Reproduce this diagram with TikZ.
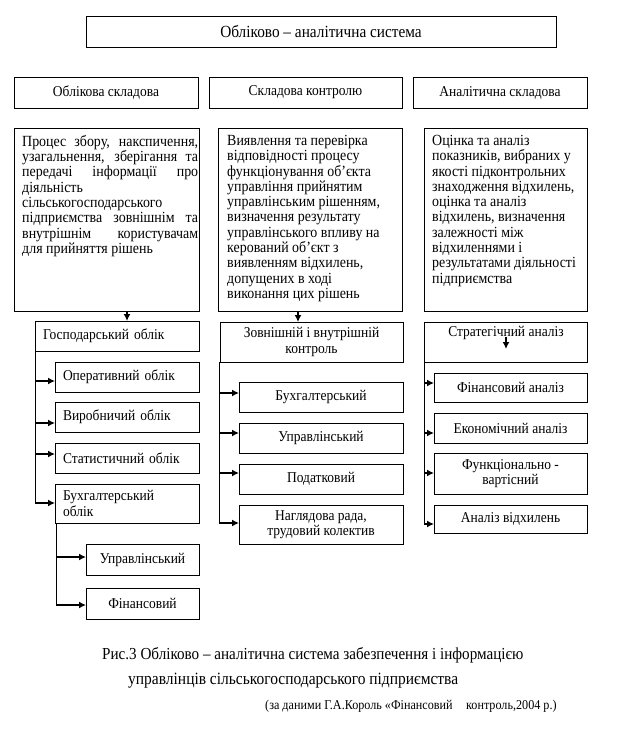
\documentclass[tikz,border=0pt]{standalone}
\usepackage{fontspec}
\setmainfont{Liberation Serif}[FakeStretch=0.9]
\usetikzlibrary{arrows.meta,calc}
\begin{document}
\begin{tikzpicture}[x=1pt,y=-1pt,
  bx/.style={draw, line width=0.9pt, anchor=north west, inner sep=0pt, outer sep=0pt, rectangle},
  lbx/.style={bx, align=left, inner xsep=8pt},
  cbx/.style={bx, align=center},
  fs/.style={font=\fontsize{15}{15.5}\selectfont},
  bigtxt/.style={anchor=north west, inner sep=0pt, font=\fontsize{15.5}{15.3}\selectfont},
  arr/.style={line width=1.9pt, -{Latex[length=7pt,width=7pt]}},
  trunk/.style={line width=1pt},
]
\useasboundingbox (0,0) rectangle (619,730);
\fill[white] (0,0) rectangle (619,730);

% title and top row
\node[cbx, minimum width=470pt, minimum height=31pt, font=\fontsize{17}{18}\selectfont] (title) at (86,16) {Обліково – аналітична система};
\node[cbx, fs, minimum width=184pt, minimum height=31pt] (oblsk) at (14,77) {Облікова складова};
\node[cbx, fs, minimum width=193pt, minimum height=31pt] (kontsk) at (209,77) {Складова контролю};
\node[cbx, fs, minimum width=174pt, minimum height=31pt] (analsk) at (413,77) {Аналітична складова};

% big boxes
\node[bx, minimum width=185pt, minimum height=183pt] (lbig) at (14,128) {};
\node[bx, minimum width=184pt, minimum height=183pt] (mbig) at (218,128) {};
\node[bx, minimum width=163pt, minimum height=183pt] (rbig) at (424,128) {};

\node[bigtxt, align=justify, text width=176pt] (lbigT) at (22,135) {\hyphenpenalty=10000 Процес збору, накспичення,\linebreak узагальнення, зберігання та\linebreak передачі інформації про\linebreak діяльність\linebreak сільськогосподарського\linebreak підприємства зовнішнім та\linebreak внутрішнім користувачам\linebreak для прийняття рішень};
\node[bigtxt, align=left] (mbigT) at (227,135) {Виявлення та перевірка\\відповідності процесу\\функціонування об’єкта\\управління прийнятим\\управлінським рішенням,\\визначення результату\\управлінського впливу на\\керований об’єкт з\\виявленням відхилень,\\допущених в ході\\виконання цих рішень};
\node[bigtxt, align=left] (rbigT) at (432,135) {Оцінка та аналіз\\показників, вибраних у\\якості підконтрольних\\знаходження відхилень,\\оцінка та аналіз\\відхилень, визначення\\залежності між\\відхиленнями і\\результатами діяльності\\підприємства};

% left column
\node[lbx, fs, text width=148pt, minimum height=30pt] (gosp) at (35,321) {Господарський облік};
\node[lbx, fs, text width=128pt, minimum height=30pt] (oper) at (55,362) {Оперативний облік};
\node[lbx, fs, text width=128pt, minimum height=30pt] (virob) at (55,402) {Виробничий облік};
\node[lbx, fs, text width=128pt, minimum height=30pt] (stat) at (55,443) {Статистичний облік};
\node[lbx, fs, text width=128pt, minimum height=39pt] (buh) at (55,484) {Бухгалтерський\\облік};
\node[cbx, fs, minimum width=113pt, minimum height=31pt] (upr) at (86,544) {Управлінський};
\node[cbx, fs, minimum width=113pt, minimum height=31pt] (fin) at (86,588) {Фінансовий};

% middle column
\node[cbx, fs, minimum width=183pt, minimum height=40pt] (zovn) at (220,322) {Зовнішній і внутрішній\\контроль};
\node[cbx, fs, minimum width=164pt, minimum height=30pt] (mbuh) at (239,382) {Бухгалтерський};
\node[cbx, fs, minimum width=164pt, minimum height=30pt] (mupr) at (239,423) {Управлінський};
\node[cbx, fs, minimum width=164pt, minimum height=30pt] (mpod) at (239,464) {Податковий};
\node[cbx, fs, minimum width=164pt, minimum height=39pt] (mnagl) at (239,505) {Наглядова рада,\\трудовий колектив};

% right column
\node[bx, minimum width=163pt, minimum height=40pt] (strat) at (424,322) {};
\node[fs, inner sep=0pt] (stratT) at (506,333) {Стратегічний аналіз};
\node[cbx, fs, minimum width=153pt, minimum height=29pt] (rfin) at (434,373) {Фінансовий аналіз};
\node[cbx, fs, minimum width=153pt, minimum height=30pt] (rek) at (434,413) {Економічний аналіз};
\node[cbx, fs, minimum width=153pt, minimum height=41pt] (rfunc) at (434,453) {Функціонально -\\вартісний};
\node[cbx, fs, minimum width=153pt, minimum height=28pt] (rvid) at (434,505) {Аналіз відхилень};

% down arrows
\coordinate (ldA) at (127,311);
\coordinate (mdA) at (298,311);
\coordinate (sdA) at (506,337);
\coordinate (sdB) at (506,349);
\draw[arr] (ldA) -- (ldA |- gosp.north);
\draw[arr] (mdA) -- (mdA |- zovn.north);
\draw[arr] (sdA) -- (sdB);

% left trunks
\coordinate (lt1) at (35,381);
\coordinate (lt2) at (35,423);
\coordinate (lt3) at (35,454);
\coordinate (lt4) at (35,503);
\draw[trunk] (gosp.south west) -- (lt4);
\draw[arr] (lt1) -- (lt1 -| oper.west);
\draw[arr] (lt2) -- (lt2 -| virob.west);
\draw[arr] (lt3) -- (lt3 -| stat.west);
\draw[arr] (lt4) -- (lt4 -| buh.west);

\coordinate (bt1) at (56,557);
\coordinate (bt2) at (56,605);
\draw[trunk] ($(buh.south west)+(1,0)$) -- (bt2);
\draw[arr] (bt1) -- (bt1 -| upr.west);
\draw[arr] (bt2) -- (bt2 -| fin.west);

% middle trunk
\coordinate (mt1) at (219,393);
\coordinate (mt2) at (219,433);
\coordinate (mt3) at (219,473);
\coordinate (mt4) at (219,523);
\draw[trunk] ($(zovn.south west)+(-1,0)$) -- (mt4);
\draw[arr] (mt1) -- (mt1 -| mbuh.west);
\draw[arr] (mt2) -- (mt2 -| mupr.west);
\draw[arr] (mt3) -- (mt3 -| mpod.west);
\draw[arr] (mt4) -- (mt4 -| mnagl.west);

% right trunk
\coordinate (rt1) at (424,383);
\coordinate (rt2) at (424,433);
\coordinate (rt3) at (424,473);
\coordinate (rt4) at (424,524);
\draw[trunk] (strat.south west) -- (rt4);
\draw[arr] (rt1) -- (rt1 -| rfin.west);
\draw[arr] (rt2) -- (rt2 -| rek.west);
\draw[arr] (rt3) -- (rt3 -| rfunc.west);
\draw[arr] (rt4) -- (rt4 -| rvid.west);

% caption
\node[anchor=west, inner sep=0pt, font=\fontsize{16.8}{17}\selectfont] (cap1) at (102,655) {Рис.3 Обліково – аналітична система забезпечення і інформацією};
\node[anchor=west, inner sep=0pt, font=\fontsize{17.2}{18}\selectfont] (cap2) at (128,681) {управлінців сільськогосподарського підприємства};
\node[anchor=west, inner sep=0pt, font=\fontsize{13.5}{14}\selectfont] (cap3) at (265,706) {(за даними Г.А.Король «Фінансовий\quad контроль,2004 р.)};
\end{tikzpicture}
\end{document}
